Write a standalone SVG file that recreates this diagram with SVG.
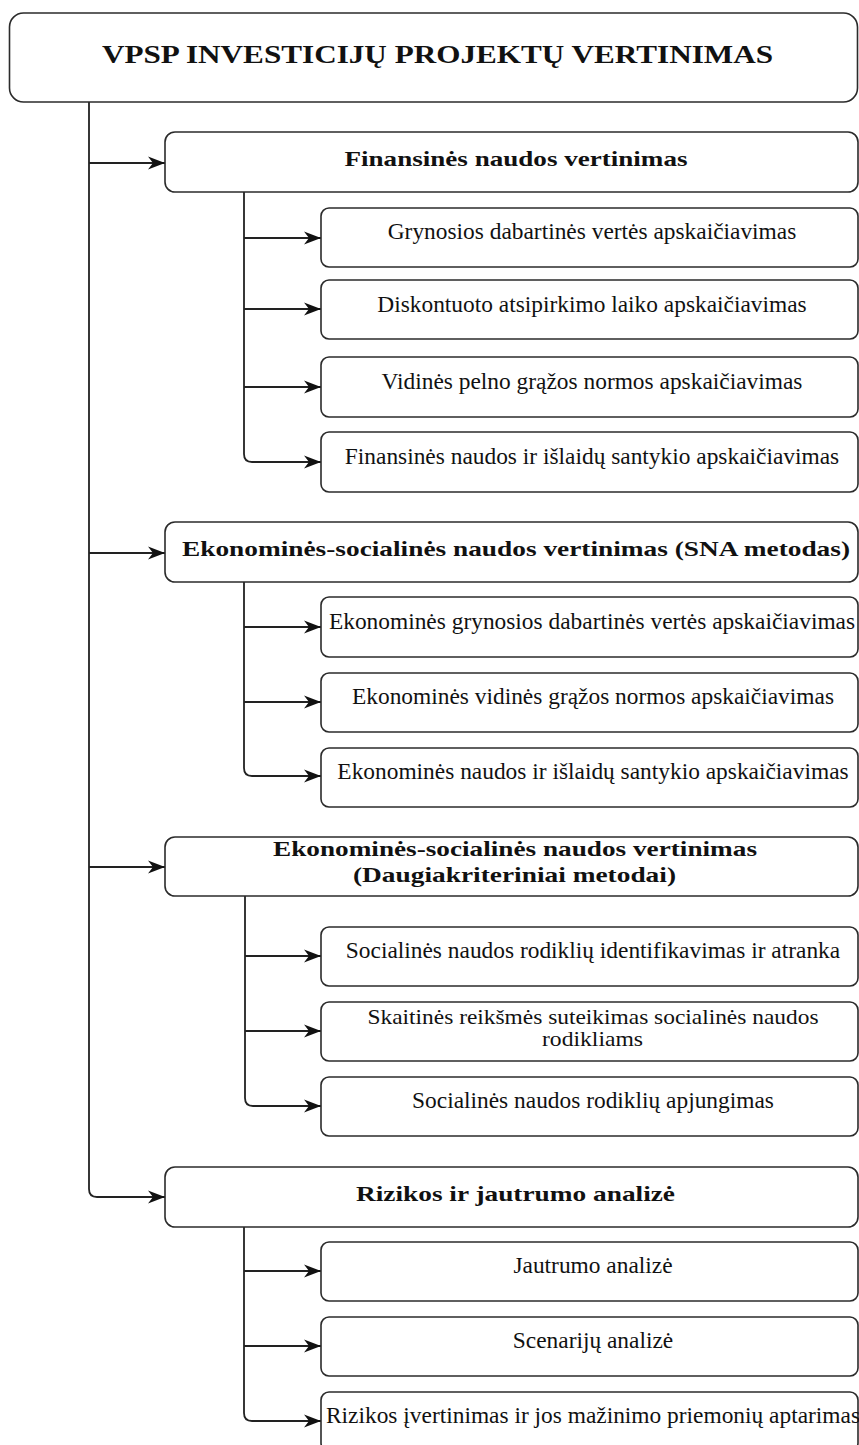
<svg xmlns="http://www.w3.org/2000/svg" width="859" height="1445" viewBox="0 0 859 1445">
<style>
.box{fill:#fff;stroke:#2b2b2b;stroke-width:1.6}
.con{fill:none;stroke:#222;stroke-width:1.8}
.title{font-family:"Liberation Serif","Times New Roman","DejaVu Serif",serif;font-weight:bold;font-size:25px;fill:#111;text-anchor:middle}
.main{font-family:"Liberation Serif","Times New Roman","DejaVu Serif",serif;font-weight:bold;font-size:21px;fill:#111;text-anchor:middle}
.sub{font-family:"Liberation Serif","Times New Roman","DejaVu Serif",serif;font-size:23.4px;fill:#111;text-anchor:middle}
.sub2{font-family:"Liberation Serif","Times New Roman","DejaVu Serif",serif;font-size:21.5px;fill:#111;text-anchor:middle}
</style>
<defs>
<marker id="arr" markerUnits="userSpaceOnUse" markerWidth="19" markerHeight="15" refX="17" refY="7" orient="auto">
<path d="M0,0.5 L17,7 L0,13.5 L5,7 Z" fill="#111"/>
</marker>
</defs>

<g id="connectors">
<path class="con" d="M89,102 V1189 Q89,1197 97,1197 H165" marker-end="url(#arr)"/>
<path class="con" d="M89,163 H165" marker-end="url(#arr)"/>
<path class="con" d="M89,553 H165" marker-end="url(#arr)"/>
<path class="con" d="M89,867 H165" marker-end="url(#arr)"/>

<path class="con" d="M244,192 V454 Q244,462 252,462 H321" marker-end="url(#arr)"/>
<path class="con" d="M244,238 H321" marker-end="url(#arr)"/>
<path class="con" d="M244,309 H321" marker-end="url(#arr)"/>
<path class="con" d="M244,387 H321" marker-end="url(#arr)"/>

<path class="con" d="M244,582 V768 Q244,776 252,776 H321" marker-end="url(#arr)"/>
<path class="con" d="M244,627 H321" marker-end="url(#arr)"/>
<path class="con" d="M244,702 H321" marker-end="url(#arr)"/>

<path class="con" d="M245,896 V1098 Q245,1106 253,1106 H321" marker-end="url(#arr)"/>
<path class="con" d="M245,956 H321" marker-end="url(#arr)"/>
<path class="con" d="M245,1031 H321" marker-end="url(#arr)"/>

<path class="con" d="M244,1227 V1413 Q244,1421 252,1421 H321" marker-end="url(#arr)"/>
<path class="con" d="M244,1271 H321" marker-end="url(#arr)"/>
<path class="con" d="M244,1346 H321" marker-end="url(#arr)"/>
</g>

<g id="root">
<rect class="box" x="9.5" y="13" width="848" height="89" rx="14"/>
<text class="title" x="437.5" y="63" textLength="671" lengthAdjust="spacingAndGlyphs">VPSP INVESTICIJŲ PROJEKTŲ VERTINIMAS</text>
</g>

<g id="fin">
<rect class="box" x="165" y="132" width="693" height="60" rx="10"/>
<text class="main" x="516" y="166" textLength="343" lengthAdjust="spacingAndGlyphs">Finansinės naudos vertinimas</text>
</g>
<g id="fin1">
<rect class="box" x="321" y="208" width="537" height="59" rx="8"/>
<text class="sub" x="592" y="239">Grynosios dabartinės vertės apskaičiavimas</text>
</g>
<g id="fin2">
<rect class="box" x="321" y="280" width="537" height="59" rx="8"/>
<text class="sub" x="592" y="311.5">Diskontuoto atsipirkimo laiko apskaičiavimas</text>
</g>
<g id="fin3">
<rect class="box" x="321" y="357" width="537" height="60" rx="8"/>
<text class="sub" x="592" y="388.5">Vidinės pelno grąžos normos apskaičiavimas</text>
</g>
<g id="fin4">
<rect class="box" x="321" y="432" width="537" height="60" rx="8"/>
<text class="sub" x="592" y="464">Finansinės naudos ir išlaidų santykio apskaičiavimas</text>
</g>

<g id="sna">
<rect class="box" x="165" y="522" width="693" height="60" rx="10"/>
<text class="main" x="516" y="555.5" textLength="668" lengthAdjust="spacingAndGlyphs">Ekonominės-socialinės naudos vertinimas (SNA metodas)</text>
</g>
<g id="sna1">
<rect class="box" x="321" y="597" width="537" height="60" rx="8"/>
<text class="sub" x="592" y="628.5">Ekonominės grynosios dabartinės vertės apskaičiavimas</text>
</g>
<g id="sna2">
<rect class="box" x="321" y="673" width="537" height="59" rx="8"/>
<text class="sub" x="593" y="703.5">Ekonominės vidinės grąžos normos apskaičiavimas</text>
</g>
<g id="sna3">
<rect class="box" x="321" y="748" width="537" height="59" rx="8"/>
<text class="sub" x="593" y="778.5">Ekonominės naudos ir išlaidų santykio apskaičiavimas</text>
</g>

<g id="multi">
<rect class="box" x="165" y="837" width="693" height="59" rx="10"/>
<text class="main" x="515" y="856" textLength="484" lengthAdjust="spacingAndGlyphs">Ekonominės-socialinės naudos vertinimas</text>
<text class="main" x="514.5" y="881.5" textLength="323" lengthAdjust="spacingAndGlyphs">(Daugiakriteriniai metodai)</text>
</g>
<g id="multi1">
<rect class="box" x="321" y="927" width="537" height="59" rx="8"/>
<text class="sub" x="593" y="958">Socialinės naudos rodiklių identifikavimas ir atranka</text>
</g>
<g id="multi2">
<rect class="box" x="321" y="1002" width="537" height="59" rx="8"/>
<text class="sub2" x="593" y="1023.5" textLength="451" lengthAdjust="spacingAndGlyphs">Skaitinės reikšmės suteikimas socialinės naudos</text>
<text class="sub2" x="592.5" y="1046" textLength="101" lengthAdjust="spacingAndGlyphs">rodikliams</text>
</g>
<g id="multi3">
<rect class="box" x="321" y="1077" width="537" height="59" rx="8"/>
<text class="sub" x="593" y="1108">Socialinės naudos rodiklių apjungimas</text>
</g>

<g id="risk">
<rect class="box" x="165" y="1167" width="693" height="60" rx="10"/>
<text class="main" x="515.5" y="1200.5" textLength="319" lengthAdjust="spacingAndGlyphs">Rizikos ir jautrumo analizė</text>
</g>
<g id="risk1">
<rect class="box" x="321" y="1242" width="537" height="59" rx="8"/>
<text class="sub" x="593" y="1273">Jautrumo analizė</text>
</g>
<g id="risk2">
<rect class="box" x="321" y="1317" width="537" height="59" rx="8"/>
<text class="sub" x="593" y="1348">Scenarijų analizė</text>
</g>
<g id="risk3">
<rect class="box" x="321" y="1392" width="537" height="59" rx="8"/>
<text class="sub" x="593" y="1423">Rizikos įvertinimas ir jos mažinimo priemonių aptarimas</text>
</g>
</svg>
